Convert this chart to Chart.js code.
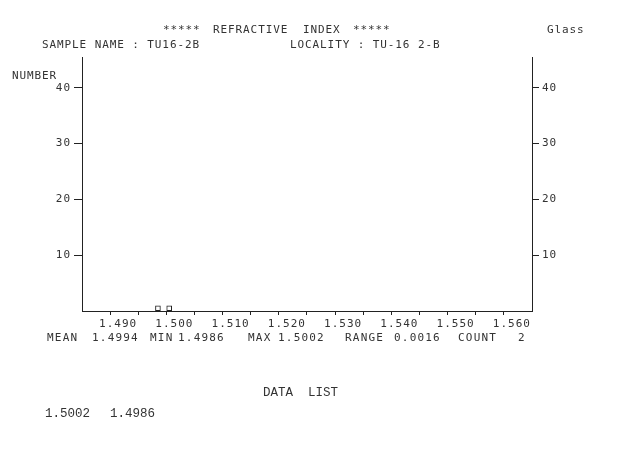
<!DOCTYPE html>
<html>
<head>
<meta charset="utf-8">
<script src="https://cdn.jsdelivr.net/npm/chart.js@4.4.0/dist/chart.umd.min.js"></script>
<style>
  html, body { margin: 0; padding: 0; background: #fff; }
  #wrap { width: 617px; height: 464px; }
</style>
</head>
<body>
<div id="wrap"><canvas id="myChart" width="617" height="464"></canvas></div>
<script>
// histogram bins (0.001 wide) that hold a sample, and their counts
var binStart = [1.498, 1.500];
var binCount = [1, 1];
var binWidth = 0.001;

// measured refractive indices, as printed in the data list
var dataList = [1.5002, 1.4986];

var xMajorTicks = [1.490, 1.500, 1.510, 1.520, 1.530, 1.540, 1.550, 1.560];
var xMinorTicks = [1.495, 1.505, 1.515, 1.525, 1.535, 1.545, 1.555];
var yTicks = [10, 20, 30, 40];

var sampleName = 'TU16-2B';
var locality = 'TU-16 2-B';

var ink = '#333';
var plotFont = '"DejaVu Sans Mono", monospace';

function stats(list) {
    var min = Math.min.apply(null, list);
    var max = Math.max.apply(null, list);
    var sum = list.reduce(function(a, b) { return a + b; }, 0);
    return { mean: sum / list.length, min: min, max: max, range: max - min, count: list.length };
}

var st = stats(dataList);

function write(ctx, text, x, y) {
    ctx.fillText(text, x, y);
}

var textPlugin = {
    id: 'plotText',
    beforeDraw: function(chart) {
        chart.ctx.letterSpacing = '1px';
    },
    afterDraw: function(chart) {
        var ctx = chart.ctx;
        ctx.save();
        ctx.fillStyle = ink;
        ctx.textAlign = 'left';
        ctx.textBaseline = 'middle';
        ctx.font = '11px ' + plotFont;
        ctx.letterSpacing = '0.9px';

        write(ctx, '*****', 163, 30);
        write(ctx, 'REFRACTIVE', 213, 30);
        write(ctx, 'INDEX', 303, 30);
        write(ctx, '*****', 353, 30);
        write(ctx, 'Glass', 547, 30);
        write(ctx, 'SAMPLE NAME : ' + sampleName, 42, 45);
        write(ctx, 'LOCALITY : ' + locality, 290, 45);
        write(ctx, 'NUMBER', 12, 76);

        ctx.letterSpacing = '1.2px';
        var y = 338;
        write(ctx, 'MEAN', 47, y);
        write(ctx, st.mean.toFixed(4), 92, y);
        write(ctx, 'MIN', 150, y);
        write(ctx, st.min.toFixed(4), 178, y);
        write(ctx, 'MAX', 248, y);
        write(ctx, st.max.toFixed(4), 278, y);
        write(ctx, 'RANGE', 345, y);
        write(ctx, st.range.toFixed(4), 394, y);
        write(ctx, 'COUNT', 458, y);
        write(ctx, String(st.count), 518, y);

        ctx.letterSpacing = '0px';
        ctx.font = '12.5px "Liberation Mono", monospace';
        write(ctx, 'DATA  LIST', 263, 393);
        dataList.forEach(function(v, i) {
            write(ctx, v.toFixed(4), 45 + i * 65, 414);
        });
        ctx.restore();
    }
};

var ctx = document.getElementById('myChart').getContext('2d');
var myChart = new Chart(ctx, {
    type: 'bar',
    data: {
        datasets: [{
            label: 'NUMBER',
            data: binStart.map(function(s, i) { return { x: s + binWidth / 2, y: binCount[i] }; }),
            backgroundColor: 'rgba(0,0,0,0)',
            borderColor: '#222',
            borderWidth: 1,
            borderSkipped: false,
            categoryPercentage: 1,
            barPercentage: 0.5,
            yAxisID: 'y'
        }]
    },
    options: {
        responsive: false,
        animation: false,
        layout: { padding: { top: 57, left: 0, right: 0, bottom: 0 } },
        plugins: {
            legend: { display: false },
            tooltip: { enabled: false }
        },
        scales: {
            x: {
                type: 'linear',
                min: 1.485,
                max: 1.565,
                offset: false,
                afterFit: function(scale) { scale.height = 153; },
                afterBuildTicks: function(axis) {
                    axis.ticks = xMajorTicks.concat(xMinorTicks)
                        .sort(function(a, b) { return a - b; })
                        .map(function(v) { return { value: v }; });
                },
                ticks: {
                    autoSkip: false,
                    maxRotation: 0,
                    padding: 3,
                    labelOffset: 8,
                    color: ink,
                    font: { family: plotFont, size: 11 },
                    callback: function(value) {
                        var isMajor = xMajorTicks.some(function(m) { return Math.abs(m - value) < 1e-9; });
                        return isMajor ? value.toFixed(3) : '';
                    }
                },
                grid: { offset: false, drawOnChartArea: false, drawTicks: true, tickLength: 4, color: '#222', tickColor: '#222' },
                border: { display: true, color: '#222', width: 1 }
            },
            y: {
                position: 'left',
                min: 0,
                max: 45.5,
                afterFit: function(scale) { scale.width = 82; },
                afterBuildTicks: function(axis) {
                    axis.ticks = yTicks.map(function(v) { return { value: v }; });
                },
                ticks: {
                    padding: 3,
                    color: ink,
                    font: { family: plotFont, size: 11 }
                },
                grid: { drawOnChartArea: false, drawTicks: true, tickLength: 8, color: '#222', tickColor: '#222' },
                border: { display: true, color: '#222', width: 1 }
            },
            y2: {
                position: 'right',
                min: 0,
                max: 45.5,
                afterFit: function(scale) { scale.width = 85; },
                afterBuildTicks: function(axis) {
                    axis.ticks = yTicks.map(function(v) { return { value: v }; });
                },
                ticks: {
                    padding: 3,
                    color: ink,
                    font: { family: plotFont, size: 11 }
                },
                grid: { drawOnChartArea: false, drawTicks: true, tickLength: 7, color: '#222', tickColor: '#222' },
                border: { display: true, color: '#222', width: 1 }
            }
        }
    },
    plugins: [textPlugin]
});
</script>
</body>
</html>
